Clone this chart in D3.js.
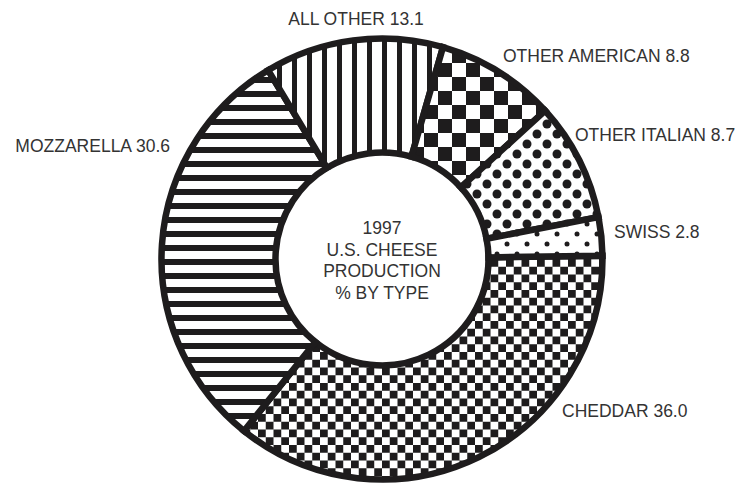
<!DOCTYPE html>
<html>
<head>
<meta charset="utf-8">
<script src="https://cdn.jsdelivr.net/npm/d3@7"></script>
<style>
  html, body { margin: 0; padding: 0; background: #fff; }
  svg { display: block; }
  text { font-family: "Liberation Sans", Arial, sans-serif; font-size: 17.5px; fill: #333; }
</style>
</head>
<body>
<svg id="chart" width="747" height="484"></svg>
<script>
// 1997 U.S. cheese production, share by type (%)
const categories = ["CHEDDAR", "MOZZARELLA", "ALL OTHER", "OTHER AMERICAN", "OTHER ITALIAN", "SWISS"];
const shares = [36.0, 30.6, 13.1, 8.8, 8.7, 2.8];
const centerTitle = ["1997", "U.S. CHEESE", "PRODUCTION", "% BY TYPE"];

// Fill pattern for each type, in slice order
const patternIds = ["smallChecker", "hStripes", "vStripes", "bigChecker", "bigDots", "smallDots"];

// Label placement (text anchor point, in px)
const labelPos = [
  { x: 562, y: 417, anchor: "start" },
  { x: 170, y: 152, anchor: "end" },
  { x: 356, y: 25, anchor: "middle" },
  { x: 503, y: 62, anchor: "start" },
  { x: 575, y: 141, anchor: "start" },
  { x: 614, y: 238, anchor: "start" }
];

const ink = "#1e1c1d";
const svg = d3.select("#chart");
const defs = svg.append("defs");

function pattern(id, w, h) {
  const p = defs.append("pattern")
    .attr("id", id)
    .attr("patternUnits", "userSpaceOnUse")
    .attr("width", w).attr("height", h);
  p.append("rect").attr("width", w).attr("height", h).attr("fill", "#fff");
  return p;
}

// horizontal stripes
pattern("hStripes", 14, 14).append("rect")
  .attr("x", 0).attr("y", 0).attr("width", 14).attr("height", 6).attr("fill", ink);
// vertical stripes
pattern("vStripes", 15, 15).append("rect")
  .attr("x", 0).attr("y", 0).attr("width", 5).attr("height", 15).attr("fill", ink);
// large checkerboard
{
  const s = 14, p = pattern("bigChecker", 2 * s, 2 * s);
  p.append("rect").attr("x", 0).attr("y", 0).attr("width", s).attr("height", s).attr("fill", ink);
  p.append("rect").attr("x", s).attr("y", s).attr("width", s).attr("height", s).attr("fill", ink);
}
// small checkerboard
{
  const s = 7.75, p = pattern("smallChecker", 2 * s, 2 * s);
  p.append("rect").attr("x", 0).attr("y", 0).attr("width", s).attr("height", s).attr("fill", ink);
  p.append("rect").attr("x", s).attr("y", s).attr("width", s).attr("height", s).attr("fill", ink);
}
// large dots
{
  const p = pattern("bigDots", 20, 20);
  p.append("circle").attr("cx", 5).attr("cy", 5).attr("r", 4.5).attr("fill", ink);
  p.append("circle").attr("cx", 15).attr("cy", 15).attr("r", 4.5).attr("fill", ink);
}
// small dots
{
  const p = pattern("smallDots", 20, 20);
  p.append("circle").attr("cx", 5).attr("cy", 5).attr("r", 2.5).attr("fill", ink);
  p.append("circle").attr("cx", 15).attr("cy", 15).attr("r", 2.5).attr("fill", ink);
}

const cx = 382, cy = 259;
const outerR = 220.5, innerR = 106.5;

const data = categories.map((c, i) => ({ name: c, value: shares[i], pattern: patternIds[i], label: labelPos[i] }));

// Slices run clockwise starting from 3 o'clock
const pie = d3.pie()
  .value(d => d.value)
  .sort(null)
  .startAngle(Math.PI / 2 - 0.015)
  .endAngle(Math.PI / 2 - 0.015 + 2 * Math.PI);

const arc = d3.arc().innerRadius(innerR).outerRadius(outerR);

const g = svg.append("g").attr("transform", `translate(${cx},${cy})`);

g.selectAll("path.slice")
  .data(pie(data))
  .join("path")
  .attr("class", "slice")
  .attr("d", arc)
  .attr("fill", d => `url(#${d.data.pattern})`)
  .attr("stroke", ink)
  .attr("stroke-width", 6.5)
  .attr("stroke-linejoin", "miter");

// Centre title
g.append("text")
  .attr("text-anchor", "middle")
  .selectAll("tspan")
  .data(centerTitle)
  .join("tspan")
  .attr("x", 0)
  .attr("y", (d, i) => -25 + i * 21.5)
  .text(d => d);

// Category labels
svg.selectAll("text.label")
  .data(data)
  .join("text")
  .attr("class", "label")
  .attr("x", d => d.label.x)
  .attr("y", d => d.label.y)
  .attr("text-anchor", d => d.label.anchor)
  .text(d => `${d.name} ${d.value.toFixed(1)}`);
</script>
</body>
</html>
